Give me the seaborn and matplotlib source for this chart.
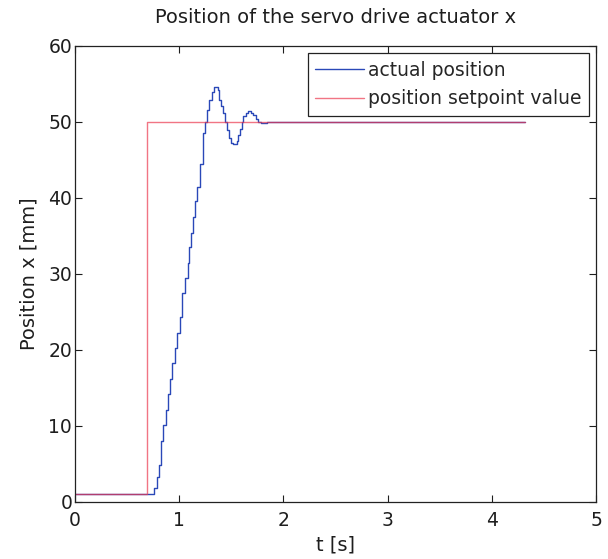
import matplotlib
matplotlib.use("Agg")
import matplotlib.pyplot as plt
import seaborn as sns
import pandas as pd

# actual position (sampled, zero-order hold)
t_actual = [0.000, 0.742, 0.761, 0.785, 0.803, 0.825, 0.848, 0.871, 0.893, 0.912,
            0.931, 0.958, 0.980, 1.006, 1.030, 1.055, 1.080, 1.095, 1.116, 1.134,
            1.153, 1.172, 1.204, 1.224, 1.232, 1.251, 1.264, 1.286, 1.312, 1.335,
            1.369, 1.385, 1.401, 1.417, 1.436, 1.456, 1.478, 1.497, 1.519, 1.551,
            1.561, 1.583, 1.603, 1.615, 1.638, 1.660, 1.686, 1.711, 1.734, 1.759,
            1.785, 1.840, 1.870, 4.320]
x_actual = [1.0, 1.0, 1.8, 3.2, 4.8, 8.0, 10.1, 12.1, 14.2, 16.1,
            18.2, 20.2, 22.2, 24.3, 27.4, 29.4, 31.4, 33.5, 35.4, 37.4,
            39.5, 41.4, 44.4, 46.5, 48.5, 50.0, 51.5, 52.9, 53.9, 54.5,
            54.2, 52.9, 52.1, 51.1, 50.0, 48.9, 47.9, 47.2, 47.1, 47.4,
            48.2, 49.1, 50.0, 50.7, 51.1, 51.4, 51.2, 50.9, 50.3, 49.9,
            49.8, 49.9, 50.0, 50.0]

# position setpoint
t_setpoint = [0.000, 0.695, 4.320]
x_setpoint = [1.0, 50.0, 50.0]

x_ticks = [0, 1, 2, 3, 4, 5]
y_ticks = [0, 10, 20, 30, 40, 50, 60]

title = "Position of the servo drive actuator x"
xlabel = "t [s]"
ylabel = "Position x [mm]"
labels = ["actual position", "position setpoint value"]

sns.set_style("white")
plt.rcParams["font.family"] = ["DejaVu Sans"]

TXT = "#1e1e1e"

fig = plt.figure(figsize=(6.08, 5.59), dpi=100)
ax = fig.add_axes([75 / 608, 1 - 501.7 / 559, (596 - 75) / 608, (501.7 - 45.7) / 559])

df_a = pd.DataFrame({"t": t_actual, "x": x_actual})
df_s = pd.DataFrame({"t": t_setpoint, "x": x_setpoint})

sns.lineplot(data=df_a, x="t", y="x", ax=ax, color="#2a48b8", linewidth=1.0,
             drawstyle="steps-post", estimator=None, sort=False, label=labels[0])
sns.lineplot(data=df_s, x="t", y="x", ax=ax, color="#ec3a50", linewidth=1.0,
             drawstyle="steps-post", estimator=None, sort=False, label=labels[1],
             alpha=0.7)

ax.set_xlim(0, 5)
ax.set_ylim(0, 60)
ax.set_xticks(x_ticks)
ax.set_yticks(y_ticks)
ax.set_xticklabels([str(v) for v in x_ticks])
ax.set_yticklabels([str(v) for v in y_ticks])

for s in ax.spines.values():
    s.set_visible(True)
    s.set_color("#222222")
    s.set_linewidth(0.9)

ax.tick_params(direction="in", length=5, width=0.8, top=True, right=True,
               labelsize=13.5, colors=TXT, bottom=True, left=True)
ax.tick_params(axis="x", pad=7)
ax.tick_params(axis="y", pad=2)

ax.set_title(title, fontsize=14, color=TXT, pad=16)
ax.set_xlabel(xlabel, fontsize=14, color=TXT, labelpad=4)
ax.set_ylabel(ylabel, fontsize=14, color=TXT, labelpad=7)

leg = ax.legend(loc="upper right", fontsize=13.5, frameon=True, fancybox=False,
                edgecolor="#222222", handlelength=2.6, handletextpad=0.2,
                borderpad=0.4, labelspacing=0.5, borderaxespad=0.4)
leg.get_frame().set_linewidth(0.9)
leg.get_frame().set_facecolor("white")
leg.get_frame().set_alpha(1.0)

fig.savefig("out.png", dpi=100)
